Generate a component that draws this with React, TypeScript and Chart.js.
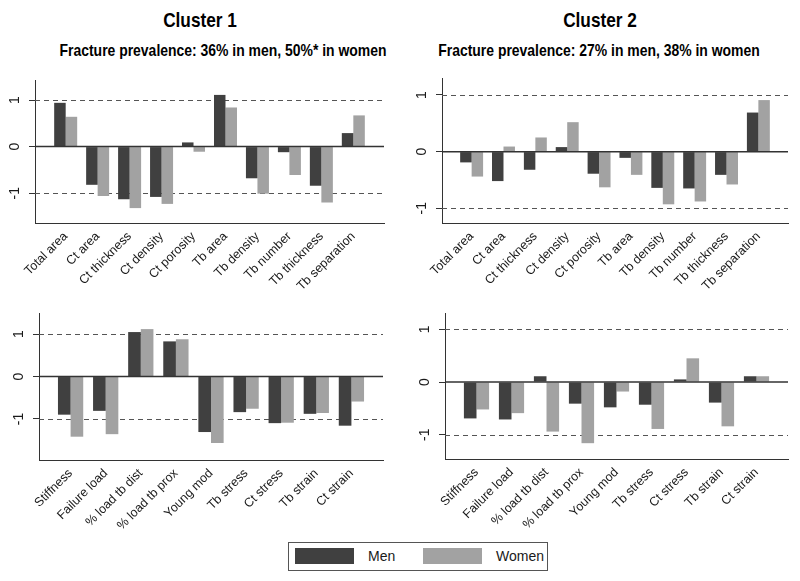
import React, { useEffect, useRef } from "react";
import { Chart, registerables } from "chart.js";

Chart.register(...registerables);

// ---------- data ----------
const structureLabels = [
  "Total area", "Ct area", "Ct thickness", "Ct density", "Ct porosity",
  "Tb area", "Tb density", "Tb number", "Tb thickness", "Tb separation",
];
const mechanicsLabels = [
  "Stiffness", "Failure load", "% load tb dist", "% load tb prox", "Young mod",
  "Tb stress", "Ct stress", "Tb strain", "Ct strain",
];

const c1StructureMen = [0.94, -0.82, -1.13, -1.08, 0.09, 1.11, -0.68, -0.12, -0.84, 0.29];
const c1StructureWomen = [0.64, -1.06, -1.32, -1.23, -0.11, 0.84, -1.01, -0.61, -1.2, 0.67];
const c2StructureMen = [-0.19, -0.52, -0.32, 0.08, -0.39, -0.11, -0.64, -0.65, -0.41, 0.69];
const c2StructureWomen = [-0.44, 0.09, 0.25, 0.52, -0.63, -0.41, -0.93, -0.88, -0.58, 0.91];

const c1MechanicsMen = [-0.9, -0.81, 1.05, 0.83, -1.31, -0.84, -1.1, -0.88, -1.16];
const c1MechanicsWomen = [-1.42, -1.36, 1.12, 0.88, -1.57, -0.76, -1.09, -0.86, -0.59];
const c2MechanicsMen = [-0.69, -0.71, 0.11, -0.41, -0.48, -0.43, 0.05, -0.39, 0.11];
const c2MechanicsWomen = [-0.52, -0.59, -0.94, -1.16, -0.18, -0.89, 0.45, -0.84, 0.11];

const yTickValues = [-1, 0, 1];
const seriesNames = ["Men", "Women"];
const clusterTitles = ["Cluster 1", "Cluster 2"];
const clusterSubtitles = [
  "Fracture prevalence: 36% in men, 50%* in women",
  "Fracture prevalence: 27% in men, 38% in women",
];

// ---------- styles ----------
const MEN_COLOR = "#404040";
const WOMEN_COLOR = "#a2a2a2";
const AXIS_COLOR = "#333333";
const TEXT_COLOR = "#1a1a1a";
const SANS = "'Liberation Sans', Arial, sans-serif";

type Rect = { left: number; top: number; width: number; height: number };
type Area = { left: number; top: number; right: number; bottom: number };

interface PanelProps {
  labels: string[];
  men: number[];
  women: number[];
  yMin: number;
  yMax: number;
  xPad: number;
  canvasRect: Rect;
  area: Area;
}

function Panel({ labels, men, women, yMin, yMax, xPad, canvasRect, area }: PanelProps) {
  const ref = useRef<HTMLCanvasElement>(null);

  useEffect(() => {
    if (!ref.current) return;
    const padTop = area.top - canvasRect.top;
    const padRight = canvasRect.left + canvasRect.width - area.right;
    const yWidth = area.left - canvasRect.left;
    const xHeight = canvasRect.top + canvasRect.height - area.bottom;

    const refLines = {
      id: "refLines",
      beforeDatasetsDraw(chart: any) {
        const { ctx, chartArea, scales } = chart;
        const y = scales.y;
        ctx.save();
        ctx.strokeStyle = "#555555";
        ctx.lineWidth = 1;
        ctx.setLineDash([5, 4]);
        for (const v of yTickValues) {
          if (v === 0) continue;
          const py = Math.round(y.getPixelForValue(v)) + 0.5;
          ctx.beginPath();
          ctx.moveTo(chartArea.left, py);
          ctx.lineTo(chartArea.right, py);
          ctx.stroke();
        }
        ctx.restore();
      },
      afterDatasetsDraw(chart: any) {
        const { ctx, chartArea, scales } = chart;
        const y = scales.y;
        ctx.save();
        ctx.strokeStyle = AXIS_COLOR;
        ctx.lineWidth = 1.5;
        const pz = y.getPixelForValue(0);
        ctx.beginPath();
        ctx.moveTo(chartArea.left, pz);
        ctx.lineTo(chartArea.right, pz);
        ctx.stroke();

        ctx.fillStyle = TEXT_COLOR;
        ctx.font = `14px ${SANS}`;
        ctx.textAlign = "center";
        ctx.textBaseline = "middle";
        for (const v of yTickValues) {
          ctx.save();
          ctx.translate(chartArea.left - 20, y.getPixelForValue(v));
          ctx.rotate(-Math.PI / 2);
          ctx.fillText(String(v), 0, 0);
          ctx.restore();
        }
        ctx.restore();
      },
    };

    const chart = new Chart(ref.current, {
      type: "bar",
      data: {
        datasets: [
          {
            label: seriesNames[0],
            data: men.map((v, i) => ({ x: i, y: v })),
            backgroundColor: MEN_COLOR,
            borderWidth: 0,
          },
          {
            label: seriesNames[1],
            data: women.map((v, i) => ({ x: i, y: v })),
            backgroundColor: WOMEN_COLOR,
            borderWidth: 0,
          },
        ],
      } as any,
      options: {
        animation: false,
        responsive: false,
        maintainAspectRatio: false,
        devicePixelRatio: 1,
        layout: { padding: { top: padTop, right: padRight, left: 0, bottom: 0 } },
        plugins: { legend: { display: false }, tooltip: { enabled: false } },
        datasets: { bar: { categoryPercentage: 0.72, barPercentage: 1 } },
        scales: {
          x: {
            type: "linear",
            min: -xPad,
            max: labels.length - 1 + xPad,
            offset: false,
            grid: { display: false, drawTicks: false, offset: false },
            border: { display: true, color: AXIS_COLOR, width: 1 },
            ticks: {
              stepSize: 1,
              includeBounds: false,
              autoSkip: false,
              minRotation: 45,
              maxRotation: 45,
              padding: 6,
              color: TEXT_COLOR,
              font: { family: SANS, size: 12.5 },
              callback: (v: any) => labels[v] ?? "",
            },
            afterFit: (s: any) => {
              s.height = xHeight;
            },
          },
          y: {
            min: yMin,
            max: yMax,
            ticks: { stepSize: 1, includeBounds: false, display: false },
            grid: {
              drawOnChartArea: false,
              drawTicks: true,
              tickLength: 6,
              tickColor: AXIS_COLOR,
              color: AXIS_COLOR,
            },
            border: { display: true, color: AXIS_COLOR, width: 1 },
            afterFit: (s: any) => {
              s.width = yWidth;
            },
          },
        },
      } as any,
      plugins: [refLines],
    });
    return () => chart.destroy();
  }, []);

  return (
    <canvas
      ref={ref}
      width={canvasRect.width}
      height={canvasRect.height}
      style={{ position: "absolute", left: canvasRect.left, top: canvasRect.top }}
    />
  );
}

const titleStyle = (left: number, top: number, width: number, size: number): React.CSSProperties => ({
  position: "absolute",
  left,
  top,
  width,
  textAlign: "center",
  fontFamily: SANS,
  fontWeight: "bold",
  fontSize: size,
  lineHeight: `${size}px`,
  color: "#000",
  whiteSpace: "nowrap",
  transform: "scaleX(0.82)",
  transformOrigin: "50% 50%",
});

export default function App() {
  return (
    <div
      style={{
        position: "absolute",
        left: 0,
        top: 0,
        width: 800,
        height: 581,
        background: "#fff",
        overflow: "hidden",
      }}
    >
      <div style={titleStyle(100, 9, 200, 21)}>{clusterTitles[0]}</div>
      <div style={titleStyle(500, 9, 200, 21)}>{clusterTitles[1]}</div>
      <div style={titleStyle(23, 42, 400, 17)}>{clusterSubtitles[0]}</div>
      <div style={titleStyle(399, 42, 400, 17)}>{clusterSubtitles[1]}</div>

      <Panel
        labels={structureLabels}
        men={c1StructureMen}
        women={c1StructureWomen}
        yMin={-1.64}
        yMax={1.43}
        xPad={0.96}
        canvasRect={{ left: 0, top: 66, width: 400, height: 234 }}
        area={{ left: 35, top: 80, right: 384, bottom: 223 }}
      />
      <Panel
        labels={structureLabels}
        men={c2StructureMen}
        women={c2StructureWomen}
        yMin={-1.26}
        yMax={1.3}
        xPad={0.93}
        canvasRect={{ left: 400, top: 66, width: 400, height: 234 }}
        area={{ left: 442, top: 78, right: 788, bottom: 223 }}
      />
      <Panel
        labels={mechanicsLabels}
        men={c1MechanicsMen}
        women={c1MechanicsWomen}
        yMin={-1.97}
        yMax={1.5}
        xPad={0.9}
        canvasRect={{ left: 0, top: 300, width: 400, height: 236 }}
        area={{ left: 39, top: 313, right: 383, bottom: 460 }}
      />
      <Panel
        labels={mechanicsLabels}
        men={c2MechanicsMen}
        women={c2MechanicsWomen}
        yMin={-1.46}
        yMax={1.31}
        xPad={0.9}
        canvasRect={{ left: 400, top: 300, width: 400, height: 236 }}
        area={{ left: 445, top: 313, right: 788, bottom: 459 }}
      />

      <div
        style={{
          position: "absolute",
          left: 288,
          top: 542,
          width: 260,
          height: 29,
          boxSizing: "border-box",
          border: "1px solid #555",
          fontFamily: SANS,
          fontSize: 14,
          color: TEXT_COLOR,
        }}
      >
        <div style={{ position: "absolute", left: 6, top: 5, width: 59, height: 16, background: MEN_COLOR }} />
        <div style={{ position: "absolute", left: 79, top: 4, lineHeight: "18px" }}>{seriesNames[0]}</div>
        <div style={{ position: "absolute", left: 134, top: 5, width: 59, height: 16, background: WOMEN_COLOR }} />
        <div style={{ position: "absolute", left: 207, top: 4, lineHeight: "18px" }}>{seriesNames[1]}</div>
      </div>
    </div>
  );
}
